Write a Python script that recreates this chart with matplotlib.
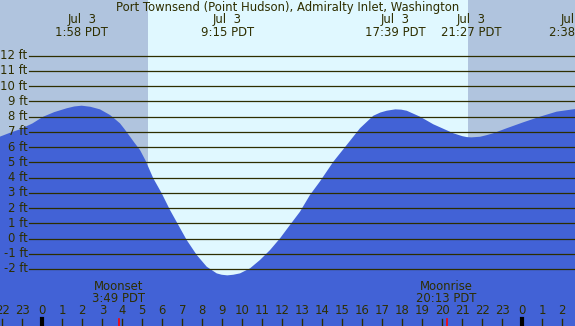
import matplotlib
matplotlib.use('Agg')
import matplotlib.pyplot as plt

TITLE = 'Port Townsend (Point Hudson), Admiralty Inlet, Washington'

# tide curve: hours since midnight Jul 3, height in ft
HOURS = [-2.115, -1.6, -1.115, -0.5, 0.05, 0.6, 1.22, 1.6, 1.97, 2.4, 2.885,
         3.1, 3.385, 3.6, 3.885, 4.1, 4.385, 4.6, 4.885, 5.15, 5.55, 5.97,
         6.385, 6.8, 7.22, 7.72, 8.22, 8.72, 8.97, 9.25, 9.55, 9.885, 10.385,
         10.885, 11.385, 11.885, 12.385, 12.885, 13.385, 13.885, 14.55,
         15.22, 15.885, 16.55, 16.9, 17.22, 17.65, 17.95, 18.22, 18.885,
         19.55, 20.3, 20.55, 21.0, 21.22, 21.45, 21.885, 22.2, 22.55,
         23.22, 24.05, 24.885, 25.72, 26.64]
HEIGHTS = [6.69, 6.95, 7.17, 7.55, 8.0, 8.3, 8.55, 8.67, 8.72, 8.65, 8.48,
           8.32, 8.11, 7.88, 7.56, 7.2, 6.69, 6.3, 5.81, 5.15, 3.95, 2.97,
           1.87, 0.89, -0.10, -1.08, -1.85, -2.29, -2.38, -2.42, -2.38, -2.29,
           -1.96, -1.41, -0.76, 0.01, 0.89, 1.76, 2.86, 3.75, 5.04,
           6.14, 7.24, 8.06, 8.27, 8.39, 8.48, 8.46, 8.39, 8.0,
           7.5, 7.06, 6.91, 6.72, 6.66, 6.64, 6.68, 6.78, 6.91,
           7.24, 7.63, 8.0, 8.33, 8.50]

EXTREME_HOURS = [1.967, 9.25, 17.65, 21.45, 26.633]
EXTREME_LABELS = ['1:58 PDT', '9:15 PDT', '17:39 PDT', '21:27 PDT', '2:38 PDT']
EXTREME_DATES = ['Jul  3', 'Jul  3', 'Jul  3', 'Jul  3', 'Jul  4']

SUNRISE = 5.283   # 5:17
SUNSET = 21.283   # 21:17

MOON_NAMES = ['Moonset', 'Moonrise']
MOON_HOURS = [3.817, 20.217]
MOON_LABELS = ['3:49 PDT', '20:13 PDT']

FT_TICKS = list(range(-2, 13))
HOUR_TICKS = list(range(-2, 27))

X0, X1 = -2.115, 26.635
Y0, Y1 = -5.745, 15.66

NIGHT = '#b0c4de'
DAY = '#e0f8ff'
WATER = '#4262d6'
INK = '#2e2e00'

fig = plt.figure(figsize=(5.75, 3.26), dpi=100)
ax = fig.add_axes([0, 0, 1, 1])
ax.set_xlim(X0, X1)
ax.set_ylim(Y0, Y1)
ax.axis('off')

ax.axvspan(X0, SUNRISE, color=NIGHT, lw=0, zorder=0)
ax.axvspan(SUNRISE, SUNSET, color=DAY, lw=0, zorder=0)
ax.axvspan(SUNSET, X1, color=NIGHT, lw=0, zorder=0)

ax.fill_between(HOURS, HEIGHTS, Y0, color=WATER, lw=0, zorder=1)

fs = 8.4
for ft in FT_TICKS:
    ax.plot([-0.665, X1], [ft, ft], color=INK, lw=0.9, zorder=2)
    ax.text(-0.74, ft, f'{ft} ft', ha='right', va='center', fontsize=fs,
            color=INK, zorder=3)

def ypix(p):
    return 1 - p / 326

xt = ax.get_xaxis_transform()

ax.text(0.5, ypix(7), TITLE, transform=ax.transAxes, ha='center',
        va='center', fontsize=fs, color=INK)

for h, lab, d in zip(EXTREME_HOURS, EXTREME_LABELS, EXTREME_DATES):
    ax.text(h, ypix(20), d, transform=xt, ha='center', va='center',
            fontsize=fs, color=INK)
    ax.text(h, ypix(32), lab, transform=xt, ha='center', va='center',
            fontsize=fs, color=INK)

for name, h, lab in zip(MOON_NAMES, MOON_HOURS, MOON_LABELS):
    ax.text(h, ypix(287), name, transform=xt, ha='center', va='center',
            fontsize=fs, color=INK)
    ax.text(h, ypix(299), lab, transform=xt, ha='center', va='center',
            fontsize=fs, color=INK)
    ax.plot([h, h], [ypix(319), 0], transform=xt, color='red', lw=1.2,
            zorder=3)

for h in HOUR_TICKS:
    ax.text(h, ypix(311), str(h % 24), transform=xt, ha='center',
            va='center', fontsize=fs, color=INK)
    midnight = h % 24 == 0
    ax.plot([h, h], [ypix(319), 0], transform=xt,
            color='black' if midnight else INK, lw=3 if midnight else 1.0,
            zorder=3)

fig.savefig('out.png', dpi=100)
